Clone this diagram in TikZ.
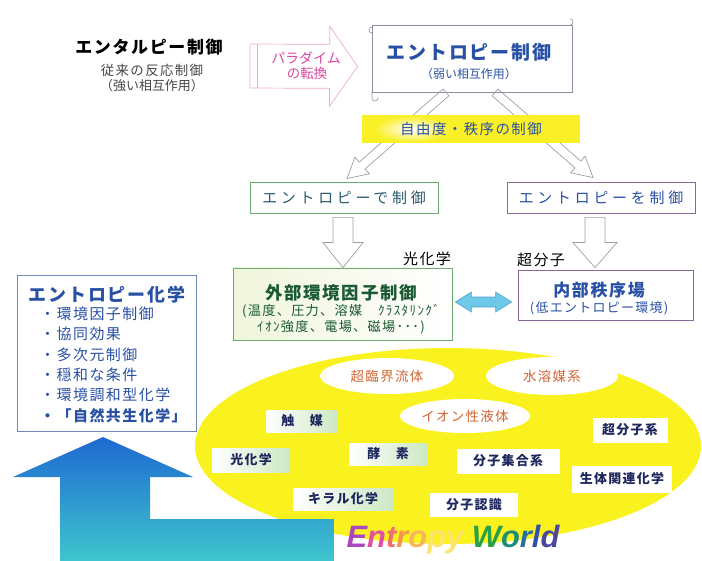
\documentclass[tikz,border=0pt]{standalone}
\usepackage{fontspec}
\setmainfont{Noto Sans CJK JP}
\newfontfamily\jp{Noto Sans CJK JP}
\newfontfamily\jps{Noto Sans CJK JP}[LetterSpace=10]
\newfontfamily\jpw{Noto Sans CJK JP}[LetterSpace=25]
\newfontfamily\ewfont{Liberation Sans}
\usetikzlibrary{calc,shapes.geometric}
\newcommand\fs[1]{\fontsize{#1}{#1}\selectfont}
\definecolor{tblue}{RGB}{40,80,165}
\definecolor{bnY}{RGB}{250,240,40}
\definecolor{wY}{RGB}{250,242,30}
\definecolor{hgray}{RGB}{160,160,160}
\definecolor{pinkT}{RGB}{220,70,160}
\definecolor{pinkL}{RGB}{240,170,210}
\definecolor{grnB}{RGB}{110,170,110}
\definecolor{grnT}{RGB}{25,90,50}
\definecolor{tealT}{RGB}{40,90,110}
\definecolor{purB}{RGB}{135,105,155}
\definecolor{topB}{RGB}{140,145,160}
\definecolor{leftB}{RGB}{110,135,185}
\definecolor{tagT}{RGB}{30,40,95}
\definecolor{tagG}{RGB}{205,232,195}
\definecolor{welT}{RGB}{210,100,50}
\definecolor{extF}{RGB}{240,245,220}
\definecolor{dblF}{RGB}{110,200,232}
\definecolor{dblB}{RGB}{80,165,210}
\definecolor{arrTop}{RGB}{30,105,210}
\definecolor{arrBot}{RGB}{62,198,205}
\definecolor{subG}{RGB}{70,70,70}
\definecolor{ewE}{RGB}{170,70,190}
\definecolor{ewn}{RGB}{225,80,160}
\definecolor{ewt}{RGB}{240,110,110}
\definecolor{ewr}{RGB}{245,150,80}
\definecolor{ewo}{RGB}{248,180,90}
\definecolor{ewp}{RGB}{252,228,110}
\definecolor{ewW}{RGB}{40,160,70}
\definecolor{ewoo}{RGB}{30,140,120}
\definecolor{ewrr}{RGB}{40,110,160}
\definecolor{ewl}{RGB}{50,80,170}
\definecolor{ewd}{RGB}{75,70,160}
\newcommand\blockarr[6]{%
  \path (#2) coordinate (bas) (#3) coordinate (bat);
  \path ($(bat)!#6!(bas)$) coordinate (bah);
  \draw[#1] ($(bas)!#4!90:(bat)$) -- ($(bah)!#4!90:(bat)$) -- ($(bah)!#5!90:(bat)$) -- (bat)
    -- ($(bah)!#5!-90:(bat)$) -- ($(bah)!#4!-90:(bat)$) -- ($(bas)!#4!-90:(bat)$) -- cycle;}
\begin{document}
\begin{tikzpicture}[x=1bp,y=-1bp,
  box/.style={draw, line width=0.8bp, inner sep=0, fill=white},
  txt/.style={inner sep=0},
  hollow/.style={draw=hgray, fill=white, line width=0.7bp, line join=miter},
  tagg/.style={inner sep=0, left color=white, right color=tagG, font=\jps\bfseries\fs{13}, text=tagT},
  tagw/.style={inner sep=0, fill=white, font=\jps\bfseries\fs{13}, text=tagT},
  wel/.style={ellipse, fill=white, inner sep=0, font=\jps\fs{13.5}, text=welT}]
\useasboundingbox (0,0) rectangle (702,561);
\fill[white] (0,0) rectangle (702,561);

% Entropy world
\node[ellipse, fill=wY, inner sep=0, minimum width=506bp, minimum height=196bp] (world) at (448,446) {};
\node[wel, minimum width=134bp, minimum height=36bp] (scf) at (387,376) {超臨界流体};
\node[wel, minimum width=132bp, minimum height=38bp] (aq) at (552,376) {水溶媒系};
\node[wel, minimum width=130bp, minimum height=34bp] (il) at (465,416) {イオン性液体};
\node[tagg, minimum width=71bp, minimum height=22bp] (cat) at (302,421) {触　媒};
\node[tagg, minimum width=78bp, minimum height=24bp] (photo) at (251,460) {光化学};
\node[tagg, minimum width=77bp, minimum height=22bp] (enz) at (388,454) {酵　素};
\node[tagw, minimum width=103bp, minimum height=25bp] (assem) at (508,461) {分子集合系};
\node[tagw, minimum width=75bp, minimum height=25bp] (supra) at (630,430) {超分子系};
\node[tagw, minimum width=100bp, minimum height=27bp] (bio) at (622,479) {生体関連化学};
\node[tagg, minimum width=99bp, minimum height=22bp] (chiral) at (343,499) {キラル化学};
\node[tagw, minimum width=88bp, minimum height=24bp] (recog) at (474,505) {分子認識};

% big blue arrow
\shade[top color=arrTop, bottom color=arrBot] (103,437) -- (193,477) -- (150,477) -- (150,519)
  -- (334,519) -- (334,561) -- (60,561) -- (60,477) -- (13,477) -- cycle;

\node[txt, font=\ewfont\bfseries\itshape\fs{31}] (ew) at (453,540)
  {\textcolor{ewE}{E}\textcolor{ewn}{n}\textcolor{ewt}{t}\textcolor{ewr}{r}\textcolor{ewo}{o}\textcolor{ewp}{py} \textcolor{ewW}{W}\textcolor{ewoo}{o}\textcolor{ewrr}{r}\textcolor{ewl}{l}\textcolor{ewd}{d}};

% left box
\node[box, draw=leftB, minimum width=179bp, minimum height=156bp] (chem) at (106.5,353) {};
\node[txt, font=\jps\bfseries\fs{18}, text=tblue] (chemT) at (107,295) {エントロピー化学};
\foreach \t [count=\i from 0] in {環境因子制御,協同効果,多次元制御,穏和な条件,環境調和型化学}
  \node[txt, anchor=west, font=\jps\fs{15}, text=tblue] (it\i) at (40,314+20.3*\i) {・\t};
\node[txt, anchor=west, font=\jps\bfseries\fs{15}, text=tblue] (it5) at (40,416) {・「自然共生化学」};

% enthalpy
\node[txt, font=\jps\bfseries\fs{17}] (enth) at (149,47) {エンタルピー制御};
\node[txt, font=\jps\fs{13.5}, text=subG] (enth2) at (152,70) {従来の反応制御};
\node[txt, font=\jp\fs{13}, text=subG] (enth3) at (152,86) {（強い相互作用）};

% top box
\node[box, draw=topB, minimum width=200bp, minimum height=67bp] (top) at (472,58.5) {};
\node[txt, font=\jps\bfseries\fs{19}, text=tblue] (topT) at (469,52) {エントロピー制御};
\node[txt, font=\jp\fs{12}, text=tblue] (topS) at (469,74) {（弱い相互作用）};
\draw[topB, line width=0.6bp] (372,27) arc (90:270:3bp) -- ++(0,-1);
\draw[topB, line width=0.6bp] (570,25) arc (-90:90:3bp);
\draw[topB, line width=0.6bp] (372,92) -- ++(0,6) arc (180:360:3bp);

% paradigm arrow
\coordinate (pas) at (250,66);
\coordinate (pae) at ($(top.west)+(-14,8)$);
\blockarr{draw=pinkL, fill=white, line width=0.7bp}{pas}{pae}{22bp}{40bp}{28bp}
\draw[pinkL, line width=0.7bp] ($(pas)+(7,-22)$) -- ($(pas)+(7,22)$);
\node[txt, font=\jp\fs{14}, text=pinkT] (par1) at (306,58) {パラダイム};
\node[txt, font=\jp\fs{13.5}, text=pinkT] (par2) at (307,73) {の転換};

% mid boxes
\node[box, draw=grnB, minimum width=188bp, minimum height=31bp, font=\jpw\fs{15}, text=tealT] (ctrlL) at (344,197.5) {エントロピーで制御};
\node[box, draw=purB, minimum width=188bp, minimum height=31bp, font=\jpw\fs{15}, text=tblue] (ctrlR) at (601,197.5) {エントロピーを制御};

% diagonal hollow arrows
\coordinate (d1s) at ($(top.south)+(-26,0)$);
\coordinate (d1e) at ($(ctrlL.north)+(3,-3)$);
\coordinate (d2s) at ($(top.south)+(23,0)$);
\coordinate (d2e) at ($(ctrlR.north)+(-8,-4)$);
\blockarr{hollow}{d1s}{d1e}{4.5bp}{11bp}{20bp}
\blockarr{hollow}{d2s}{d2e}{4.5bp}{11bp}{20bp}
\node[fill=bnY, inner sep=0, minimum width=218bp, minimum height=28bp] (band) at (471,129) {};
\shade[inner color=white, outer color=bnY] (412,129) ellipse [x radius=38bp, y radius=13bp];
\node[txt, font=\jps\fs{14.5}, text=tblue] (bandT) at (band.center) {自由度・秩序の制御};
\node[box, draw=topB, minimum width=200bp, minimum height=67bp, fill=none] (topagain) at (472,58.5) {};

% lower boxes
\node[box, draw=grnB, left color=extF, right color=white, minimum width=219bp, minimum height=72bp] (ext) at (342.5,304) {};
\node[txt, font=\jps\bfseries\fs{17.5}, text=grnT] (extT) at (341,293) {外部環境因子制御};
\node[txt, font=\jps\fs{13.2}, text=grnT] (extS1) at (341,311) {(温度、圧力、溶媒　ｸﾗｽﾀﾘﾝｸﾞ};
\node[txt, font=\jps\fs{13.2}, text=grnT] (extS2) at (341,327) {ｲｵﾝ強度、電場、磁場･･･)};
\node[box, draw=purB, minimum width=175bp, minimum height=50bp] (int) at (605.5,295) {};
\node[txt, font=\jps\bfseries\fs{17}, text=tblue] (intT) at (599,290) {内部秩序場};
\node[txt, font=\jps\fs{13}, text=tblue] (intS) at (599,308) {(低エントロピー環境)};
\node[txt, font=\jps\fs{15}] (lphoto) at (427,259) {光化学};
\node[txt, font=\jps\fs{15}] (lsupra) at (541,260) {超分子};

% down hollow arrows
\coordinate (v1s) at ($(ctrlL.south)+(-1,4)$);
\coordinate (v1e) at ($(ctrlL.south |- ext.north)+(-1,0)$);
\coordinate (v2s) at ($(ctrlR.south)+(-6,4)$);
\coordinate (v2e) at ($(ctrlR.south |- int.north)+(-6,-2)$);
\blockarr{hollow}{v1s}{v1e}{10bp}{20bp}{25bp}
\blockarr{hollow}{v2s}{v2e}{10bp}{22bp}{25bp}

% double arrow
\coordinate (da1) at ($(ext.east)+(3,-2)$);
\coordinate (da2) at ($(int.west)+(-6,7)$);
\draw[fill=dblF, draw=dblB, line width=0.6bp] (da1) -- ($(da1)+(16,-10)$) -- ($(da1)+(16,-5)$) -- ($(da2)+(-16,-5)$)
  -- ($(da2)+(-16,-10)$) -- (da2) -- ($(da2)+(-16,10)$) -- ($(da2)+(-16,5)$) -- ($(da1)+(16,5)$) -- ($(da1)+(16,10)$) -- cycle;
\end{tikzpicture}
\end{document}
